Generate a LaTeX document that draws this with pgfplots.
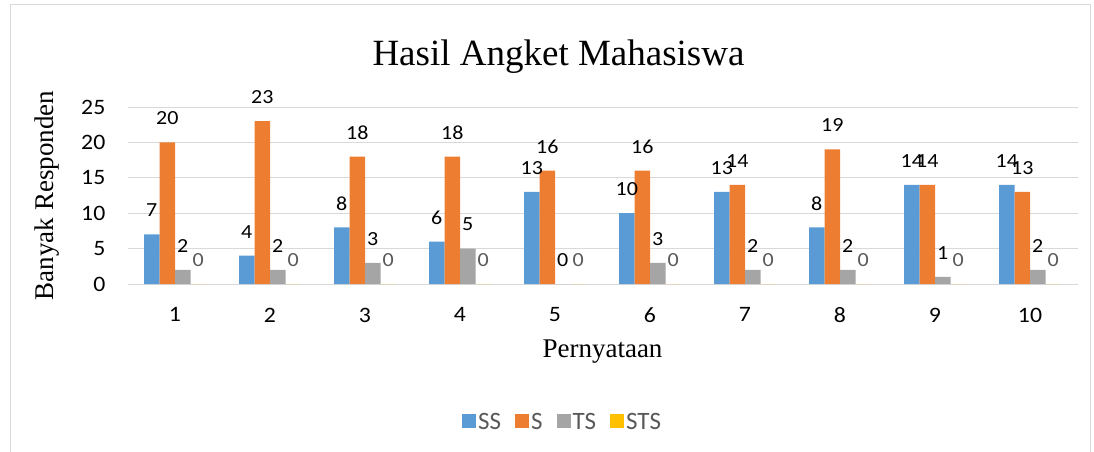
\documentclass[border=0pt]{standalone}
\usepackage{fontspec}
\setmainfont{Liberation Serif}
\newfontfamily\calibri{Carlito}
\usepackage{pgfplots}
\pgfplotsset{compat=1.18}
\definecolor{cSS}{HTML}{5B9BD5}
\definecolor{cS}{HTML}{ED7D31}
\definecolor{cTS}{HTML}{A5A5A5}
\definecolor{cSTS}{HTML}{FFC000}
\definecolor{gridc}{HTML}{D9D9D9}
\definecolor{txtg}{HTML}{595959}
\begin{document}
\begin{tikzpicture}
\path[use as bounding box] (0pt,0pt) rectangle (1094pt,-452pt);
\draw[gridc, line width=0.8pt] (10pt,-4pt) rectangle (1090pt,-460pt);
\begin{axis}[
  at={(127.5pt,-284pt)}, anchor=south west,
  scale only axis, width=950pt, height=177pt,
  ybar=0pt, bar width=15.5pt,
  xmin=0.5, xmax=10.5, ymin=0, ymax=25,
  xtick={1,...,10}, ytick={0,5,...,25},
  axis x line*=bottom, axis y line*=left,
  x axis line style={gridc, line width=1pt},
  y axis line style={draw=none},
  ymajorgrids, grid style={gridc, line width=1pt},
  tick style={draw=none},
  /pgf/number format/assume math mode=true,
  ticklabel style={font=\calibri\fontsize{22}{25}\selectfont, text=black, xscale=1.08},
  yticklabel style={xshift=-17pt},
  xticklabel style={yshift=-16pt},
  title={Hasil Angket Mahasiswa},
  title style={font=\fontsize{37}{42}\selectfont, anchor=center, at={(axis description cs:0.5,1)}, yshift=44pt, xshift=-44pt},
  xlabel={Pernyataan},
  xlabel style={font=\fontsize{27}{30}\selectfont, anchor=center, at={(axis description cs:0.5,0)}, yshift=-68pt},
  ylabel={Banyak Responden},
  ylabel style={font=\fontsize{27}{30}\selectfont, anchor=center, at={(axis description cs:0,0.5)}, yshift=80pt},
  nodes near coords,
  every node near coord/.append style={font=\calibri\fontsize{20}{24}\selectfont, anchor=center, yshift=24pt, text=black, xscale=1.1},
  legend columns=4,
  legend style={draw=none, fill=none, at={(axis description cs:0.458,-0.78)}, anchor=center,
    font=\calibri\fontsize{25}{28}\selectfont, text=txtg,
    /tikz/every even column/.append style={column sep=12pt}},
  legend image code/.code={\fill[#1] (-4pt,-6pt) rectangle (10pt,8pt);},
  clip=false]
\addplot[fill=cSS, draw=none] coordinates {(1,7) (2,4) (3,8) (4,6) (5,13) (6,10) (7,13) (8,8) (9,14) (10,14)};
\addplot[fill=cS, draw=none] coordinates {(1,20) (2,23) (3,18) (4,18) (5,16) (6,16) (7,14) (8,19) (9,14) (10,13)};
\addplot[fill=cTS, draw=none] coordinates {(1,2) (2,2) (3,3) (4,5) (5,0) (6,3) (7,2) (8,2) (9,1) (10,2)};
\addplot[fill=cSTS, draw=none, every node near coord/.append style={text=txtg}] coordinates {(1,0) (2,0) (3,0) (4,0) (5,0) (6,0) (7,0) (8,0) (9,0) (10,0)};
\legend{SS,S,TS,STS}
\end{axis}
\end{tikzpicture}
\end{document}
